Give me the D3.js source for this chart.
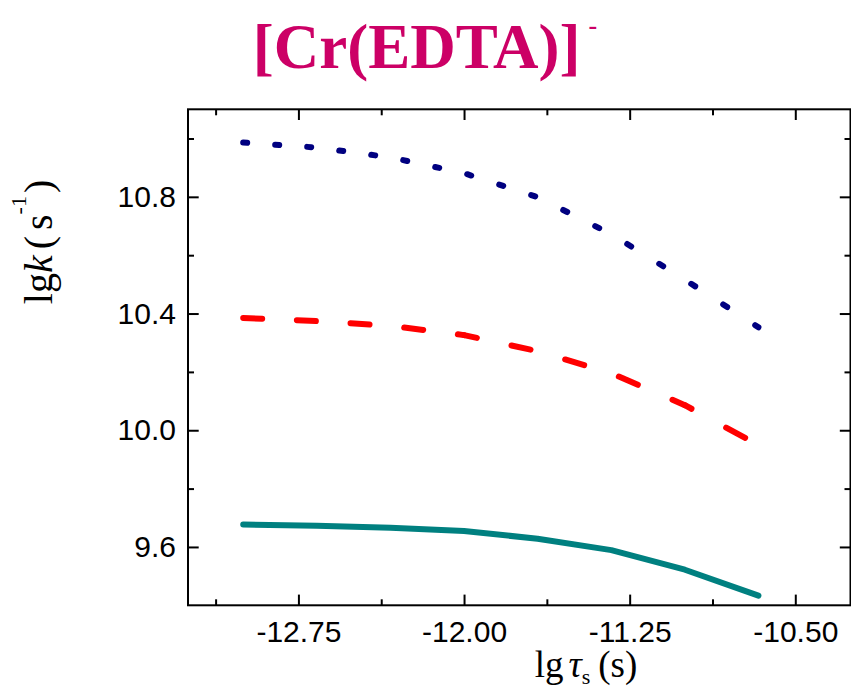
<!DOCTYPE html>
<html><head><meta charset="utf-8">
<script src="https://cdn.jsdelivr.net/npm/d3@7"></script>
<style>body{margin:0;background:#fff} svg{display:block}</style>
</head><body><svg id="chart" width="851" height="691"></svg>
<script>
// ---- data ----
const xValues    = [-13.0, -12.667, -12.333, -12.0, -11.667, -11.333, -11.0, -10.667];
const seriesNavy = [10.986, 10.969, 10.935, 10.881, 10.799, 10.672, 10.516, 10.353];
const seriesRed  = [10.385, 10.374, 10.358, 10.326, 10.271, 10.195, 10.086, 9.949];
const seriesTeal = [9.677, 9.673, 9.666, 9.655, 9.628, 9.589, 9.522, 9.433];
const xTickValues = [-12.75, -12.00, -11.25, -10.50];
const xTickLabels = ["-12.75", "-12.00", "-11.25", "-10.50"];
const xMinorTicks = [-13.125, -12.375, -11.625, -10.875];
const yTickValues = [9.6, 10.0, 10.4, 10.8];
const yTickLabels = ["9.6", "10.0", "10.4", "10.8"];
const yMinorTicks = [9.8, 10.2, 10.6, 11.0];
const xDomain = [-13.25, -10.25];
const yDomain = [9.4, 11.1];

// ---- layout ----
const svg = d3.select("#chart");
const L = 188, R = 850.5, T = 109.3, B = 605.3;
const x = d3.scaleLinear().domain(xDomain).range([L, R]);
const y = d3.scaleLinear().domain(yDomain).range([B, T]);
const majorLen = 10.7, minorLen = 6;

// title
const title = svg.append("text")
  .attr("x", 425).attr("y", 68).attr("text-anchor", "middle")
  .style("font-family", "'Liberation Serif','Times New Roman',serif")
  .style("font-weight", "bold").style("font-size", "63px").attr("fill", "#cc0066");
title.append("tspan").text("[Cr(EDTA)]");
title.append("tspan").attr("dx", 8).attr("dy", -34).style("font-size", "26px").text("-");

// axes
function styleAxis(g) {
  g.select(".domain").remove();
  g.selectAll(".tick line").attr("stroke", "#000").attr("stroke-width", 2);
  g.selectAll(".tick text").attr("fill", "#000")
    .style("font-family", "'Liberation Sans',Arial,sans-serif").style("font-size", "30px");
}
const fmtX = (d) => xTickLabels[xTickValues.indexOf(d)];
const fmtY = (d) => yTickLabels[yTickValues.indexOf(d)];

svg.append("g").attr("transform", `translate(0,${B})`)
  .call(d3.axisBottom(x).tickValues(xTickValues).tickFormat(fmtX).tickSizeInner(-majorLen).tickSizeOuter(0).tickPadding(15))
  .call(styleAxis);
svg.append("g").attr("transform", `translate(0,${B})`)
  .call(d3.axisBottom(x).tickValues(xMinorTicks).tickFormat("").tickSizeInner(-minorLen).tickSizeOuter(0))
  .call(styleAxis);
svg.append("g").attr("transform", `translate(0,${T})`)
  .call(d3.axisTop(x).tickValues(xTickValues).tickFormat("").tickSizeInner(-majorLen).tickSizeOuter(0))
  .call(styleAxis);
svg.append("g").attr("transform", `translate(0,${T})`)
  .call(d3.axisTop(x).tickValues(xMinorTicks).tickFormat("").tickSizeInner(-minorLen).tickSizeOuter(0))
  .call(styleAxis);

svg.append("g").attr("transform", `translate(${L},0)`)
  .call(d3.axisLeft(y).tickValues(yTickValues).tickFormat(fmtY).tickSizeInner(-majorLen).tickSizeOuter(0).tickPadding(12))
  .call(styleAxis);
svg.append("g").attr("transform", `translate(${L},0)`)
  .call(d3.axisLeft(y).tickValues(yMinorTicks).tickFormat("").tickSizeInner(-minorLen).tickSizeOuter(0))
  .call(styleAxis);
svg.append("g").attr("transform", `translate(${R},0)`)
  .call(d3.axisRight(y).tickValues(yTickValues).tickFormat("").tickSizeInner(-majorLen).tickSizeOuter(0))
  .call(styleAxis);
svg.append("g").attr("transform", `translate(${R},0)`)
  .call(d3.axisRight(y).tickValues(yMinorTicks).tickFormat("").tickSizeInner(-minorLen).tickSizeOuter(0))
  .call(styleAxis);

// frame
svg.append("rect").attr("x", L).attr("y", T).attr("width", R - L).attr("height", B - T)
  .attr("fill", "none").attr("stroke", "#000").attr("stroke-width", 2);

// series
const lineGen = d3.line().x(d => x(d[0])).y(d => y(d[1]));
function zipSeries(vals) { return xValues.map((xv, i) => [xv, vals[i]]); }

// solid teal
svg.append("path").datum(zipSeries(seriesTeal)).attr("d", lineGen)
  .attr("fill", "none").attr("stroke", "#008080").attr("stroke-width", 6)
  .attr("stroke-linecap", "round").attr("stroke-linejoin", "round");

// dashed series: pattern measured along x (as in the original rendering)
function dashedSeries(vals, color, dash, gap) {
  const pts = zipSeries(vals);
  const x0 = x(pts[0][0]);
  const segs = d3.pairs(pts);
  svg.append("g").selectAll("path").data(segs).join("path")
    .attr("d", s => lineGen(s))
    .attr("fill", "none").attr("stroke", color).attr("stroke-width", 6)
    .attr("stroke-linecap", "round")
    .each(function (s) {
      const dx = x(s[1][0]) - x(s[0][0]);
      const dy = y(s[1][1]) - y(s[0][1]);
      const f = Math.hypot(dx, dy) / dx;
      d3.select(this)
        .attr("stroke-dasharray", `${dash * f} ${gap * f}`)
        .attr("stroke-dashoffset", (x(s[0][0]) - x0) * f);
    });
}
dashedSeries(seriesNavy, "#000080", 4, 28);
dashedSeries(seriesRed, "#ff0000", 19, 34.66);

// y label
const yl = svg.append("text").attr("transform", "translate(52,242) rotate(-90)")
  .attr("text-anchor", "middle")
  .style("font-family", "'Liberation Serif','Times New Roman',serif").style("font-size", "40px").attr("fill", "#000");
yl.append("tspan").text("lg");
yl.append("tspan").style("font-style", "italic").text("k");
yl.append("tspan").attr("dx", 6).text("(");
yl.append("tspan").attr("dx", 6).text("s");
yl.append("tspan").attr("dy", -26).style("font-size", "22px").text("-1");
yl.append("tspan").attr("dy", 26).attr("dx", 3).text(")");

// x label
const xl = svg.append("text").attr("x", 586).attr("y", 677).attr("text-anchor", "middle")
  .style("font-family", "'Liberation Serif','Times New Roman',serif").style("font-size", "37px").attr("fill", "#000");
xl.append("tspan").text("lg");
xl.append("tspan").attr("dx", 5).style("font-style", "italic").text("τ");
xl.append("tspan").attr("dy", 7).style("font-size", "22px").text("s");
xl.append("tspan").attr("dx", 8).attr("dy", -7).text("(s)");
</script>
</body></html>
